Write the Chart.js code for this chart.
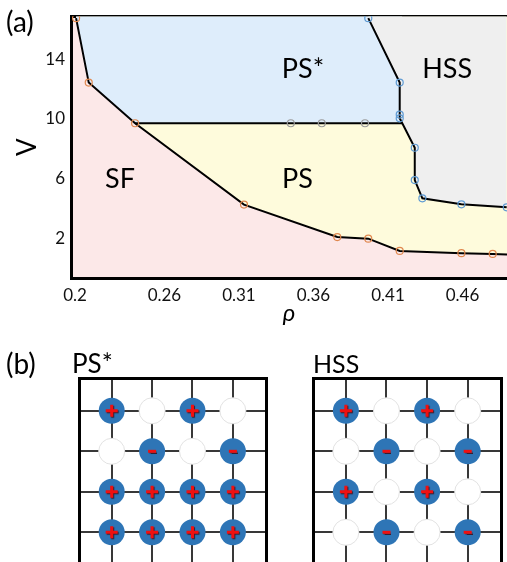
<!DOCTYPE html>
<html>
<head>
<meta charset="utf-8">
<script src="https://cdn.jsdelivr.net/npm/chart.js@4.4.0/dist/chart.umd.min.js"></script>
<style>
  html, body { margin: 0; padding: 0; background: #fff; }
  #fig { position: relative; width: 507px; height: 562px; overflow: hidden; font-family: Lato, sans-serif; color: #000; }
  #fig canvas { position: absolute; }
  .lbl { position: absolute; white-space: nowrap; line-height: 1; }
</style>
</head>
<body>
<div id="fig">
  <canvas id="phase" width="507" height="340" style="left:0;top:0"></canvas>
  <canvas id="latA" width="195" height="188" style="left:75px;top:374px"></canvas>
  <canvas id="latB" width="196" height="188" style="left:309px;top:374px"></canvas>
  <div class="lbl" style="left:6px;top:7px;font-size:28px">(a)</div>
  <div class="lbl" style="left:6px;top:349px;font-size:28px">(b)</div>
  <div class="lbl" style="left:72px;top:350px;font-size:26px">PS*</div>
  <div class="lbl" style="left:313px;top:351px;font-size:25px">HSS</div>
</div>
<script>
// ---- (a) phase diagram in the (rho, V) plane ----
// SF boundary (orange markers)
const sfRho = [0.2007, 0.2092, 0.2403, 0.3134, 0.3760, 0.3968, 0.4179, 0.4593, 0.4803, 0.4899];
const sfV   = [16.74, 12.43, 9.71, 4.27, 2.10, 1.99, 1.17, 1.02, 0.97, 0.93];
// HSS boundary (blue markers)
const hssRho = [0.3968, 0.4179, 0.4179, 0.4179, 0.4280, 0.4280, 0.4331, 0.4593, 0.4897];
const hssV   = [16.74, 12.43, 10.29, 10.04, 8.07, 5.91, 4.69, 4.29, 4.09];
// PS / PS* boundary (grey markers), from the SF line to the HSS line
const psRho = [0.2403, 0.3448, 0.3656, 0.3946, 0.4196];
const psV   = [9.71, 9.71, 9.71, 9.71, 9.71];

const rhoTicks = [0.2, 0.26, 0.31, 0.36, 0.41, 0.46];
const vTicks = [2, 6, 10, 14];

const regionNames = ['SF', 'PS', 'PS*', 'HSS'];
const regionRho = [0.2302, 0.3493, 0.3530, 0.4497];
const regionV = [5.99, 5.99, 13.29, 13.29];

// ---- (b) charge pattern on a 4x4 patch of the lattice ----
const latticeCols = [1, 2, 3, 4];
const latticeRows = [1, 2, 3, 4];
const psStarCharge = [[1, 0, 1, 0], [0, -1, 0, -1], [1, 1, 1, 1], [1, 1, 1, 1]];
const hssCharge    = [[1, 0, 1, 0], [0, -1, 0, -1], [1, 0, 1, 0], [0, -1, 0, -1]];

const pts = (xs, ys) => xs.map((x, i) => ({ x, y: ys[i] }));
const FONT = 'Lato';

const areaBackground = {
  id: 'areaBackground',
  beforeDraw(chart, args, opts) {
    const { ctx, chartArea: a } = chart;
    ctx.save();
    ctx.fillStyle = opts.color;
    ctx.fillRect(a.left, a.top, a.right - a.left, a.bottom - a.top);
    ctx.restore();
  }
};

const regionLabels = {
  id: 'regionLabels',
  afterDatasetsDraw(chart) {
    const { ctx, scales: { x, y } } = chart;
    ctx.save();
    ctx.fillStyle = '#000';
    ctx.font = '27px ' + FONT;
    ctx.textAlign = 'center';
    ctx.textBaseline = 'middle';
    regionNames.forEach((name, i) => {
      ctx.fillText(name, x.getPixelForValue(regionRho[i]), y.getPixelForValue(regionV[i]));
    });
    ctx.restore();
  }
};

const sfPts = pts(sfRho, sfV);
const hssPts = pts(hssRho, hssV);
const psPts = pts(psRho, psV);
// outline of the PS* region from below: upper SF segment, then the PS/PS* line
const psStarEdge = sfPts.filter(p => p.x <= psRho[0]).concat(psPts.slice(1));

const marker = (color) => ({
  borderColor: '#000',
  borderWidth: 2,
  pointBorderColor: color,
  pointBackgroundColor: 'rgba(0,0,0,0)',
  pointBorderWidth: 1.2,
  pointRadius: 3.5,
  tension: 0
});

new Chart(document.getElementById('phase'), {
  type: 'line',
  data: {
    datasets: [
      Object.assign({ label: 'HSS', data: hssPts, fill: 'end', backgroundColor: '#efefef' }, marker('#5f9bd3')),
      { label: 'PS*', data: psStarEdge, fill: 'end', backgroundColor: '#deedfb', borderWidth: 0, pointRadius: 0, tension: 0 },
      Object.assign({ label: 'PS', data: sfPts, fill: 'end', backgroundColor: '#fefbdc' }, marker('#e0884f'),
        { pointRadius: c => (c.dataIndex === sfPts.length - 1 ? 0 : 3.5) }),
      Object.assign({ label: 'PS/PS*', data: psPts, fill: false }, marker('#9a9a9a'),
        { pointRadius: c => (c.dataIndex === 0 || c.dataIndex === psPts.length - 1 ? 0 : 3.5) })
    ]
  },
  options: {
    responsive: false,
    animation: false,
    events: [],
    layout: { autoPadding: false, padding: { top: 14, left: 0, right: 0, bottom: 0 } },
    plugins: {
      legend: { display: false },
      tooltip: { enabled: false },
      filler: { drawTime: 'beforeDatasetsDraw', propagate: false },
      areaBackground: { color: '#fce8e8' }
    },
    scales: {
      x: {
        type: 'linear', position: 'bottom', min: 0.1973, max: 0.4899,
        afterBuildTicks: s => { s.ticks = rhoTicks.map(v => ({ value: v })); },
        afterFit: s => { s.height = 340 - 278; },
        grid: { display: false, drawTicks: false },
        border: { display: true, width: 3, color: '#000' },
        ticks: { padding: 7, color: '#111', font: { family: FONT, size: 17 }, callback: v => String(v), maxRotation: 0 },
        title: { display: true, text: 'ρ', color: '#000', font: { family: FONT, size: 24, style: 'italic' }, padding: { top: 0, bottom: 12 } }
      },
      x2: {
        type: 'linear', position: 'top', min: 0, max: 1,
        afterFit: s => { s.height = 0; },
        grid: { display: false, drawTicks: false },
        ticks: { display: false },
        border: { display: true, width: 3, color: '#000' }
      },
      y: {
        type: 'linear', position: 'left', min: -0.64, max: 16.87,
        afterBuildTicks: s => { s.ticks = vTicks.map(v => ({ value: v })); },
        afterFit: s => { s.width = 71; },
        grid: { display: false, drawTicks: false },
        border: { display: true, width: 3, color: '#000' },
        ticks: { padding: 6, color: '#111', font: { family: FONT, size: 17 } },
        title: { display: true, text: 'V', color: '#000', font: { family: FONT, size: 26 }, padding: { top: 12, bottom: 0 } }
      }
    }
  },
  plugins: [areaBackground, regionLabels]
});

// ---- lattice panels ----
const signShadow = {
  id: 'signShadow',
  beforeDatasetDraw(chart, args) {
    const ds = chart.data.datasets[args.index];
    chart.ctx.save();
    if (ds.sign) {
      chart.ctx.shadowColor = 'rgba(60,0,0,0.75)';
      chart.ctx.shadowOffsetX = 1;
      chart.ctx.shadowOffsetY = 1;
      chart.ctx.shadowBlur = 1;
    }
  },
  afterDatasetDraw(chart) { chart.ctx.restore(); }
};

function latticeChart(id, charge) {
  const occupied = [], empty = [], plus = [], minus = [];
  charge.forEach((row, r) => row.forEach((q, c) => {
    const p = { x: latticeCols[c], y: latticeRows[r] };
    if (q === 0) { empty.push(p); return; }
    occupied.push(p);
    (q > 0 ? plus : minus).push(p);
  }));
  const hidden = { display: false };
  return new Chart(document.getElementById(id), {
    type: 'scatter',
    data: {
      datasets: [
        { data: plus, sign: true, pointStyle: 'cross', pointRadius: 6, pointBorderWidth: 3, pointBorderColor: '#f01010', pointBackgroundColor: '#f01010' },
        { data: minus, sign: true, pointStyle: 'line', pointRadius: 4, pointBorderWidth: 3, pointBorderColor: '#f01010', pointBackgroundColor: '#f01010' },
        { data: occupied, pointRadius: 13, pointBorderWidth: 0, pointBackgroundColor: '#2e75b6', pointBorderColor: '#2e75b6' },
        { data: empty, pointRadius: 13, pointBorderWidth: 1, pointBackgroundColor: '#ffffff', pointBorderColor: '#e2e2e2' }
      ]
    },
    options: {
      responsive: false,
      animation: false,
      events: [],
      layout: { autoPadding: false, padding: { left: 4, top: 4, right: 4, bottom: 0 } },
      plugins: { legend: hidden, tooltip: { enabled: false } },
      scales: {
        x: {
          type: 'linear', position: 'top', min: 0.19, max: 4.82,
          afterBuildTicks: s => { s.ticks = latticeCols.map(v => ({ value: v })); },
          afterFit: s => { s.height = 0; },
          grid: { color: '#383838', lineWidth: 2, drawTicks: false },
          ticks: hidden,
          border: { width: 3, color: '#000' }
        },
        y: {
          type: 'linear', position: 'left', reverse: true, min: 0.19, max: 4.733,
          afterBuildTicks: s => { s.ticks = latticeRows.map(v => ({ value: v })); },
          afterFit: s => { s.width = 0; },
          grid: { color: '#383838', lineWidth: 2, drawTicks: false },
          ticks: hidden,
          border: { width: 3, color: '#000' }
        },
        y2: {
          type: 'linear', position: 'right', min: 0, max: 1,
          afterFit: s => { s.width = 0; },
          grid: { display: false, drawTicks: false },
          ticks: hidden,
          border: { width: 3, color: '#000' }
        }
      }
    },
    plugins: [signShadow]
  });
}

latticeChart('latA', psStarCharge);
latticeChart('latB', hssCharge);
</script>
</body>
</html>
